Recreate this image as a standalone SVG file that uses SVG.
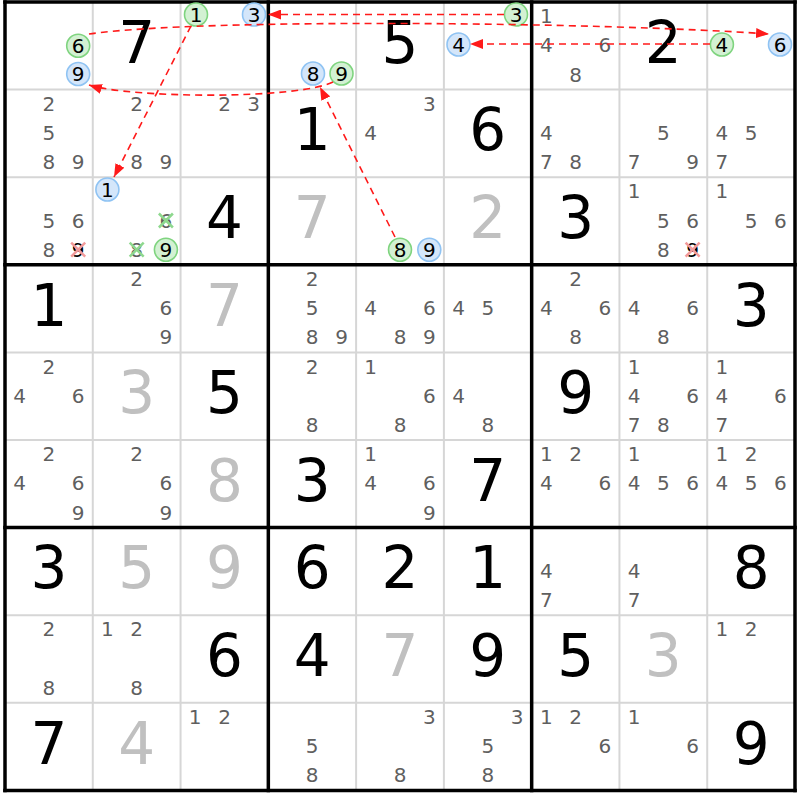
<svg xmlns="http://www.w3.org/2000/svg" width="800" height="800" viewBox="0 0 800 800">
<style>
text{font-family:"DejaVu Sans","Liberation Sans",sans-serif;text-anchor:middle}
.c{font-size:20px;fill:#5f5f5f}
.k{font-size:20px;fill:#000}
.g{font-size:58px;fill:#000}
.s{font-size:58px;fill:#c0c0c0}
.cg{fill:#d3f1d3;stroke:#7fd47f;stroke-width:1.6}
.cb{fill:#d4e6fa;stroke:#8fc3f3;stroke-width:1.6}
.xr{stroke:#f29a9a;stroke-width:2.5}
.xg{stroke:#8ed88e;stroke-width:2.5}
.thin{stroke:#d6d6d6;stroke-width:2}
.thick{stroke:#000;stroke-width:3.5}
.a{fill:none;stroke:#ff1a1a;stroke-width:1.6;stroke-dasharray:7 5;marker-end:url(#ah)}
</style>
<defs>
<marker id="ah" markerUnits="userSpaceOnUse" markerWidth="13" markerHeight="10" refX="13" refY="5" orient="auto">
<path d="M0,0 L13,5 L0,10 z" fill="#ff1a1a"/>
</marker>
</defs>
<rect x="0" y="0" width="800" height="800" fill="#fff"/>
<g id="grid">
<line class="thin" x1="92.78" y1="2" x2="92.78" y2="790.4"/>
<line class="thin" x1="180.56" y1="2" x2="180.56" y2="790.4"/>
<line class="thin" x1="356.11" y1="2" x2="356.11" y2="790.4"/>
<line class="thin" x1="443.89" y1="2" x2="443.89" y2="790.4"/>
<line class="thin" x1="619.44" y1="2" x2="619.44" y2="790.4"/>
<line class="thin" x1="707.22" y1="2" x2="707.22" y2="790.4"/>
<line class="thin" x1="5" y1="89.6" x2="795" y2="89.6"/>
<line class="thin" x1="5" y1="177.2" x2="795" y2="177.2"/>
<line class="thin" x1="5" y1="352.4" x2="795" y2="352.4"/>
<line class="thin" x1="5" y1="440" x2="795" y2="440"/>
<line class="thin" x1="5" y1="615.2" x2="795" y2="615.2"/>
<line class="thin" x1="5" y1="702.8" x2="795" y2="702.8"/>
<line class="thick" x1="5" y1="0.3" x2="5" y2="792.2"/>
<line class="thick" x1="268.33" y1="0.3" x2="268.33" y2="792.2"/>
<line class="thick" x1="531.67" y1="0.3" x2="531.67" y2="792.2"/>
<line class="thick" x1="795" y1="0.3" x2="795" y2="792.2"/>
<line class="thick" x1="3.2" y1="2" x2="796.8" y2="2"/>
<line class="thick" x1="3.2" y1="264.8" x2="796.8" y2="264.8"/>
<line class="thick" x1="3.2" y1="527.6" x2="796.8" y2="527.6"/>
<line class="thick" x1="3.2" y1="790.4" x2="796.8" y2="790.4"/>
</g>
<!-- Row 0 -->
<g id="r0c0"><circle class="cg" cx="78.2" cy="45.8" r="11.5"/><text class="k" x="78.2" y="52.8">6</text><circle class="cb" cx="78.2" cy="74" r="11.5"/><text class="k" x="78.2" y="81">9</text></g>
<g id="r0c1"><text class="g" x="136.7" y="63">7</text></g>
<g id="r0c2"><circle class="cg" cx="196" cy="14.5" r="11.5"/><text class="k" x="196" y="21.5">1</text><circle class="cb" cx="254" cy="14.5" r="11.5"/><text class="k" x="254" y="21.5">3</text></g>
<g id="r0c3"><circle class="cb" cx="313" cy="73.5" r="11.5"/><text class="k" x="313" y="80.5">8</text><circle class="cg" cx="341.5" cy="73.5" r="11.5"/><text class="k" x="341.5" y="80.5">9</text></g>
<g id="r0c4"><text class="g" x="400" y="63">5</text></g>
<g id="r0c5"><circle class="cg" cx="516" cy="14.5" r="11.5"/><text class="k" x="516" y="21.5">3</text><circle class="cb" cx="458.5" cy="44.5" r="11.5"/><text class="k" x="458.5" y="51.5">4</text></g>
<g id="r0c6"><text class="c" x="546.3" y="22.5">1</text><text class="c" x="546.3" y="52.3">4</text><text class="c" x="604.8" y="52.3">6</text><text class="c" x="575.6" y="81.5">8</text></g>
<g id="r0c7"><text class="g" x="663.3" y="63">2</text></g>
<g id="r0c8"><circle class="cg" cx="721.9" cy="44.5" r="11.5"/><text class="k" x="721.9" y="51.5">4</text><circle class="cb" cx="780" cy="44.5" r="11.5"/><text class="k" x="780" y="51.5">6</text></g>
<!-- Row 1 -->
<g id="r1c0"><text class="c" x="48.9" y="110.7">2</text><text class="c" x="48.9" y="139.9">5</text><text class="c" x="48.9" y="169.1">8</text><text class="c" x="78.2" y="169.1">9</text></g>
<g id="r1c1"><text class="c" x="136.7" y="110.7">2</text><text class="c" x="136.7" y="169.1">8</text><text class="c" x="165.9" y="169.1">9</text></g>
<g id="r1c2"><text class="c" x="224.5" y="110.7">2</text><text class="c" x="253.7" y="110.7">3</text></g>
<g id="r1c3"><text class="g" x="312.2" y="150.4">1</text></g>
<g id="r1c4"><text class="c" x="429.3" y="110.7">3</text><text class="c" x="370.7" y="139.9">4</text></g>
<g id="r1c5"><text class="g" x="487.8" y="150.4">6</text></g>
<g id="r1c6"><text class="c" x="546.3" y="139.9">4</text><text class="c" x="546.3" y="169.1">7</text><text class="c" x="575.6" y="169.1">8</text></g>
<g id="r1c7"><text class="c" x="663.3" y="139.9">5</text><text class="c" x="634.1" y="169.1">7</text><text class="c" x="692.6" y="169.1">9</text></g>
<g id="r1c8"><text class="c" x="721.9" y="139.9">4</text><text class="c" x="751.1" y="139.9">5</text><text class="c" x="721.9" y="169.1">7</text></g>
<!-- Row 2 -->
<g id="r2c0"><text class="c" x="48.9" y="227.5">5</text><text class="c" x="78.2" y="227.5">6</text><text class="c" x="48.9" y="256.7">8</text><text class="k" x="78.2" y="256.7">9</text><line class="xr" x1="71.2" y1="242.7" x2="85.2" y2="256.7"/><line class="xr" x1="71.2" y1="256.7" x2="85.2" y2="242.7"/></g>
<g id="r2c1"><circle class="cb" cx="107.4" cy="189.5" r="11.5"/><text class="k" x="107.4" y="196.5">1</text><text class="c" x="165.9" y="227.5">6</text><line class="xg" x1="158.9" y1="213.5" x2="172.9" y2="227.5"/><line class="xg" x1="158.9" y1="227.5" x2="172.9" y2="213.5"/><text class="c" x="136.7" y="256.7">8</text><line class="xg" x1="129.7" y1="242.7" x2="143.7" y2="256.7"/><line class="xg" x1="129.7" y1="256.7" x2="143.7" y2="242.7"/><circle class="cg" cx="165.9" cy="249.7" r="11.5"/><text class="k" x="165.9" y="256.7">9</text></g>
<g id="r2c2"><text class="g" x="224.5" y="238">4</text></g>
<g id="r2c3"><text class="s" x="312.2" y="238">7</text></g>
<g id="r2c4"><circle class="cg" cx="400" cy="249.7" r="11.5"/><text class="k" x="400" y="256.7">8</text><circle class="cb" cx="429.3" cy="249.7" r="11.5"/><text class="k" x="429.3" y="256.7">9</text></g>
<g id="r2c5"><text class="s" x="487.8" y="238">2</text></g>
<g id="r2c6"><text class="g" x="575.6" y="238">3</text></g>
<g id="r2c7"><text class="c" x="634.1" y="198.3">1</text><text class="c" x="663.3" y="227.5">5</text><text class="c" x="692.6" y="227.5">6</text><text class="c" x="663.3" y="256.7">8</text><text class="k" x="692.6" y="256.7">9</text><line class="xr" x1="685.6" y1="242.7" x2="699.6" y2="256.7"/><line class="xr" x1="685.6" y1="256.7" x2="699.6" y2="242.7"/></g>
<g id="r2c8"><text class="c" x="721.9" y="198.3">1</text><text class="c" x="751.1" y="227.5">5</text><text class="c" x="780.4" y="227.5">6</text></g>
<!-- Row 3 -->
<g id="r3c0"><text class="g" x="48.9" y="325.6">1</text></g>
<g id="r3c1"><text class="c" x="136.7" y="285.9">2</text><text class="c" x="165.9" y="315.1">6</text><text class="c" x="165.9" y="344.3">9</text></g>
<g id="r3c2"><text class="s" x="224.5" y="325.6">7</text></g>
<g id="r3c3"><text class="c" x="312.2" y="285.9">2</text><text class="c" x="312.2" y="315.1">5</text><text class="c" x="312.2" y="344.3">8</text><text class="c" x="341.5" y="344.3">9</text></g>
<g id="r3c4"><text class="c" x="370.7" y="315.1">4</text><text class="c" x="429.3" y="315.1">6</text><text class="c" x="400" y="344.3">8</text><text class="c" x="429.3" y="344.3">9</text></g>
<g id="r3c5"><text class="c" x="458.5" y="315.1">4</text><text class="c" x="487.8" y="315.1">5</text></g>
<g id="r3c6"><text class="c" x="575.6" y="285.9">2</text><text class="c" x="546.3" y="315.1">4</text><text class="c" x="604.8" y="315.1">6</text><text class="c" x="575.6" y="344.3">8</text></g>
<g id="r3c7"><text class="c" x="634.1" y="315.1">4</text><text class="c" x="692.6" y="315.1">6</text><text class="c" x="663.3" y="344.3">8</text></g>
<g id="r3c8"><text class="g" x="751.1" y="325.6">3</text></g>
<!-- Row 4 -->
<g id="r4c0"><text class="c" x="48.9" y="373.5">2</text><text class="c" x="19.6" y="402.7">4</text><text class="c" x="78.2" y="402.7">6</text></g>
<g id="r4c1"><text class="s" x="136.7" y="413.2">3</text></g>
<g id="r4c2"><text class="g" x="224.5" y="413.2">5</text></g>
<g id="r4c3"><text class="c" x="312.2" y="373.5">2</text><text class="c" x="312.2" y="431.9">8</text></g>
<g id="r4c4"><text class="c" x="370.7" y="373.5">1</text><text class="c" x="429.3" y="402.7">6</text><text class="c" x="400" y="431.9">8</text></g>
<g id="r4c5"><text class="c" x="458.5" y="402.7">4</text><text class="c" x="487.8" y="431.9">8</text></g>
<g id="r4c6"><text class="g" x="575.6" y="413.2">9</text></g>
<g id="r4c7"><text class="c" x="634.1" y="373.5">1</text><text class="c" x="634.1" y="402.7">4</text><text class="c" x="692.6" y="402.7">6</text><text class="c" x="634.1" y="431.9">7</text><text class="c" x="663.3" y="431.9">8</text></g>
<g id="r4c8"><text class="c" x="721.9" y="373.5">1</text><text class="c" x="721.9" y="402.7">4</text><text class="c" x="780.4" y="402.7">6</text><text class="c" x="721.9" y="431.9">7</text></g>
<!-- Row 5 -->
<g id="r5c0"><text class="c" x="48.9" y="461.1">2</text><text class="c" x="19.6" y="490.3">4</text><text class="c" x="78.2" y="490.3">6</text><text class="c" x="78.2" y="519.5">9</text></g>
<g id="r5c1"><text class="c" x="136.7" y="461.1">2</text><text class="c" x="165.9" y="490.3">6</text><text class="c" x="165.9" y="519.5">9</text></g>
<g id="r5c2"><text class="s" x="224.5" y="500.8">8</text></g>
<g id="r5c3"><text class="g" x="312.2" y="500.8">3</text></g>
<g id="r5c4"><text class="c" x="370.7" y="461.1">1</text><text class="c" x="370.7" y="490.3">4</text><text class="c" x="429.3" y="490.3">6</text><text class="c" x="429.3" y="519.5">9</text></g>
<g id="r5c5"><text class="g" x="487.8" y="500.8">7</text></g>
<g id="r5c6"><text class="c" x="546.3" y="461.1">1</text><text class="c" x="575.6" y="461.1">2</text><text class="c" x="546.3" y="490.3">4</text><text class="c" x="604.8" y="490.3">6</text></g>
<g id="r5c7"><text class="c" x="634.1" y="461.1">1</text><text class="c" x="634.1" y="490.3">4</text><text class="c" x="663.3" y="490.3">5</text><text class="c" x="692.6" y="490.3">6</text></g>
<g id="r5c8"><text class="c" x="721.9" y="461.1">1</text><text class="c" x="751.1" y="461.1">2</text><text class="c" x="721.9" y="490.3">4</text><text class="c" x="751.1" y="490.3">5</text><text class="c" x="780.4" y="490.3">6</text></g>
<!-- Row 6 -->
<g id="r6c0"><text class="g" x="48.9" y="588.4">3</text></g>
<g id="r6c1"><text class="s" x="136.7" y="588.4">5</text></g>
<g id="r6c2"><text class="s" x="224.5" y="588.4">9</text></g>
<g id="r6c3"><text class="g" x="312.2" y="588.4">6</text></g>
<g id="r6c4"><text class="g" x="400" y="588.4">2</text></g>
<g id="r6c5"><text class="g" x="487.8" y="588.4">1</text></g>
<g id="r6c6"><text class="c" x="546.3" y="577.9">4</text><text class="c" x="546.3" y="607.1">7</text></g>
<g id="r6c7"><text class="c" x="634.1" y="577.9">4</text><text class="c" x="634.1" y="607.1">7</text></g>
<g id="r6c8"><text class="g" x="751.1" y="588.4">8</text></g>
<!-- Row 7 -->
<g id="r7c0"><text class="c" x="48.9" y="636.3">2</text><text class="c" x="48.9" y="694.7">8</text></g>
<g id="r7c1"><text class="c" x="107.4" y="636.3">1</text><text class="c" x="136.7" y="636.3">2</text><text class="c" x="136.7" y="694.7">8</text></g>
<g id="r7c2"><text class="g" x="224.5" y="676">6</text></g>
<g id="r7c3"><text class="g" x="312.2" y="676">4</text></g>
<g id="r7c4"><text class="s" x="400" y="676">7</text></g>
<g id="r7c5"><text class="g" x="487.8" y="676">9</text></g>
<g id="r7c6"><text class="g" x="575.6" y="676">5</text></g>
<g id="r7c7"><text class="s" x="663.3" y="676">3</text></g>
<g id="r7c8"><text class="c" x="721.9" y="636.3">1</text><text class="c" x="751.1" y="636.3">2</text></g>
<!-- Row 8 -->
<g id="r8c0"><text class="g" x="48.9" y="763.6">7</text></g>
<g id="r8c1"><text class="s" x="136.7" y="763.6">4</text></g>
<g id="r8c2"><text class="c" x="195.2" y="723.9">1</text><text class="c" x="224.5" y="723.9">2</text></g>
<g id="r8c3"><text class="c" x="312.2" y="753.1">5</text><text class="c" x="312.2" y="782.3">8</text></g>
<g id="r8c4"><text class="c" x="429.3" y="723.9">3</text><text class="c" x="400" y="782.3">8</text></g>
<g id="r8c5"><text class="c" x="517" y="723.9">3</text><text class="c" x="487.8" y="753.1">5</text><text class="c" x="487.8" y="782.3">8</text></g>
<g id="r8c6"><text class="c" x="546.3" y="723.9">1</text><text class="c" x="575.6" y="723.9">2</text><text class="c" x="604.8" y="753.1">6</text></g>
<g id="r8c7"><text class="c" x="634.1" y="723.9">1</text><text class="c" x="692.6" y="753.1">6</text></g>
<g id="r8c8"><text class="g" x="751.1" y="763.6">9</text></g>
<g id="connectors">
<path class="a" d="M504 14.5 L268 14.5"/>
<path class="a" d="M89 34 C200 18, 600 22, 769 34"/>
<path class="a" d="M191 26 L114 177"/>
<path class="a" d="M333 82 C295 100, 130 98, 89 85"/>
<path class="a" d="M395 237 L320 87"/>
<path class="a" d="M710 44 L470 44"/>
</g>
</svg>
